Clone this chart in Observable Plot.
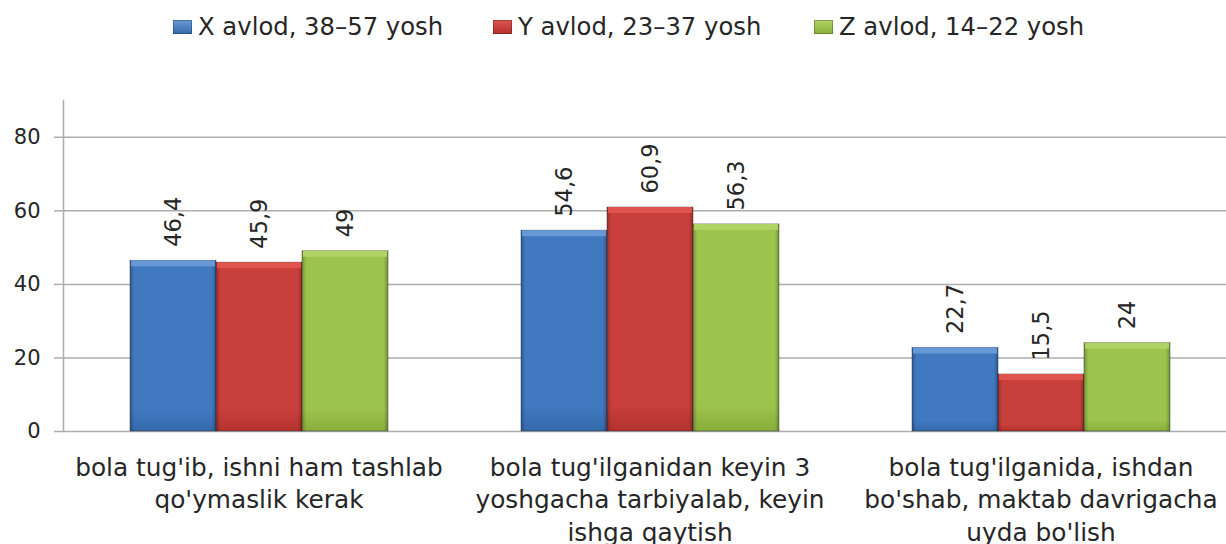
<!DOCTYPE html>
<html>
<head>
<meta charset="utf-8">
<script src="https://cdn.jsdelivr.net/npm/d3@7"></script>
<script src="https://cdn.jsdelivr.net/npm/@observablehq/plot@0.6"></script>
<style>
  html, body { margin: 0; padding: 0; background: #fff; overflow: hidden; }
  body { width: 1226px; height: 544px; font-family: "DejaVu Sans", sans-serif; color: #262626; }
  #legend { position: relative; height: 60px; }
  .item { position: absolute; top: 12px; display: flex; align-items: center; font-size: 24.3px; white-space: nowrap; }
  .sw { width: 19px; height: 14px; margin-right: 6px; box-shadow: inset 0 0 0 1px rgba(0,0,0,0.25); }
  #chart svg { max-width: none !important; display: block; }
</style>
</head>
<body>
<div id="legend"></div>
<div id="chart"></div>
<script>
// ---- data ----
const categories = [
  "bola tug'ib, ishni ham tashlab\nqo'ymaslik kerak",
  "bola tug'ilganidan keyin 3\nyoshgacha tarbiyalab, keyin\nishga qaytish",
  "bola tug'ilganida, ishdan\nbo'shab, maktab davrigacha\nuyda bo'lish"
];
const seriesNames = ["X avlod, 38–57 yosh", "Y avlod, 23–37 yosh", "Z avlod, 14–22 yosh"];
const seriesX = [46.4, 54.6, 22.7];
const seriesY = [45.9, 60.9, 15.5];
const seriesZ = [49, 56.3, 24];
const yTicks = [0, 20, 40, 60, 80];
const yDomain = [0, 90];

// ---- styles ----
const gradIds = ["gX", "gY", "gZ"];
const baseColors = [["#6a9bd8", "#4079c0", "#3469ab"], ["#e0554f", "#c93f3b", "#b3322f"], ["#b2d466", "#9cc34c", "#89ad3c"]];
const legendLeft = [173, 493, 814];

const seriesValues = [seriesX, seriesY, seriesZ];
const data = [];
categories.forEach((c, i) => {
  seriesNames.forEach((s, j) => {
    data.push({cat: c, series: s, value: seriesValues[j][i], grad: `url(#${gradIds[j]})`, top: baseColors[j][0]});
  });
});

// legend
const legend = document.getElementById("legend");
seriesNames.forEach((s, j) => {
  const it = document.createElement("div");
  it.className = "item";
  it.style.left = legendLeft[j] + "px";
  const sw = document.createElement("div");
  sw.className = "sw";
  sw.style.background = `linear-gradient(to bottom, ${baseColors[j][0]}, ${baseColors[j][2]})`;
  it.appendChild(sw);
  const t = document.createElement("span");
  t.textContent = s;
  it.appendChild(t);
  legend.appendChild(it);
});

const fmt = v => String(v).replace(".", ",");

const chart = Plot.plot({
  width: 1236,
  height: 484,
  marginTop: 40,
  marginBottom: 113,
  marginLeft: 62,
  marginRight: 0,
  style: {fontFamily: "DejaVu Sans, sans-serif", color: "#262626", background: "white", overflow: "visible"},
  fx: {domain: categories, padding: 0, label: null},
  x: {domain: seriesNames, paddingInner: 0, paddingOuter: 0.75, axis: null},
  y: {domain: yDomain, label: null},
  color: {type: "identity"},
  marks: [
    Plot.ruleY(yTicks, {stroke: "#adadad", strokeWidth: 1.5}),
    Plot.frame({anchor: "left", facetAnchor: "left", stroke: "#adadad", strokeWidth: 1.5}),
    Plot.axisY({ticks: yTicks, tickSize: 9, tickPadding: 14, fontSize: 21, stroke: "#adadad", strokeWidth: 1.5, label: null, tickFormat: d => String(d)}),
    Plot.barY(data, {fx: "cat", x: "series", y: "value", fill: "grad", stroke: "rgba(20,30,40,0.5)", strokeWidth: 0.8}),
    Plot.barY(data, {fx: "cat", x: "series", y: "value", fill: "url(#edge)"}),
    Plot.barY(data, {fx: "cat", x: "series", y1: "value", y2: "value", insetBottom: -6, fill: "top", fillOpacity: 0.95, insetLeft: 1, insetRight: 1}),
    Plot.text(data, {fx: "cat", x: "series", y: "value", text: d => fmt(d.value), rotate: -90, textAnchor: "start", dy: -14, fontSize: 22.5, fill: "#262626"}),
    Plot.axisFx({anchor: "bottom", tickSize: 0, tickPadding: 21, fontSize: 24.8, lineHeight: 1.32, label: null, fill: "#262626"})
  ]
});

// gradients
const ns = "http://www.w3.org/2000/svg";
const defs = document.createElementNS(ns, "defs");
function grad(id, stops, horizontal) {
  const g = document.createElementNS(ns, "linearGradient");
  g.setAttribute("id", id);
  g.setAttribute("x1", "0"); g.setAttribute("y1", "0");
  g.setAttribute("x2", horizontal ? "1" : "0"); g.setAttribute("y2", horizontal ? "0" : "1");
  stops.forEach(([o, c, a]) => {
    const s = document.createElementNS(ns, "stop");
    s.setAttribute("offset", o);
    s.setAttribute("stop-color", c);
    s.setAttribute("stop-opacity", a == null ? 1 : a);
    g.appendChild(s);
  });
  defs.appendChild(g);
}
gradIds.forEach((id, j) => grad(id, [["0", baseColors[j][1]], ["0.88", baseColors[j][1]], ["1", baseColors[j][2]]], false));
grad("edge", [["0", "#000", 0.25], ["0.05", "#000", 0.0], ["0.95", "#000", 0.0], ["1", "#000", 0.25]], true);
chart.insertBefore(defs, chart.firstChild);
chart.style.maxWidth = "none";
document.getElementById("chart").appendChild(chart);
</script>
</body>
</html>
